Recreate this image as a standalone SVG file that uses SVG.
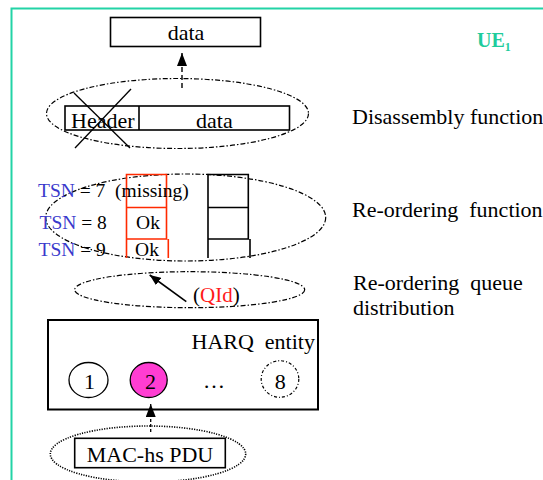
<svg xmlns="http://www.w3.org/2000/svg" width="543" height="480" viewBox="0 0 543 480">
<defs>
<style>
text{font-family:"Liberation Serif","Times New Roman",serif;fill:#000;font-size:22px}
.box{fill:#fff;stroke:#000;stroke-width:1.6}
.red{fill:none;stroke:#ff2a00;stroke-width:1.6}
.blk{fill:none;stroke:#000;stroke-width:1.6}
.dash{fill:none;stroke:#000;stroke-width:1.2;stroke-dasharray:5 2 1.5 2}
.dot{fill:none;stroke:#000;stroke-width:1.6;stroke-dasharray:1.2 1.3}
.tsn{fill:#3a3acc}
.ts{font-size:19.5px}
</style>
<marker id="ah" viewBox="0 0 13 10" refX="13" refY="5" markerWidth="13" markerHeight="10" markerUnits="userSpaceOnUse" orient="auto">
<path d="M0,0 L13,5 L0,10 z" fill="#000"/>
</marker>
<marker id="ahs" viewBox="0 0 11 9" refX="11" refY="4.5" markerWidth="11" markerHeight="9" markerUnits="userSpaceOnUse" orient="auto">
<path d="M0,0 L11,4.5 L0,9 z" fill="#000"/>
</marker>
</defs>
<rect width="543" height="480" fill="#fff"/>
<g id="frame">
<path d="M11.5,480 L11.5,8.5 L543,8.5" fill="none" stroke="#22d3a6" stroke-width="2"/>
<text x="477" y="47" font-weight="bold" style="font-size:20px;fill:#1fcc9c">UE<tspan style="font-size:12px" dy="4">1</tspan></text>
</g>
<g id="data-top">
<rect class="box" x="110.5" y="17.5" width="150" height="29"/>
<text x="186" y="40" text-anchor="middle">data</text>
</g>
<g id="disassembly">
<ellipse class="dash" cx="177.5" cy="113.5" rx="131" ry="35"/>
<rect class="box" x="65" y="106" width="224.5" height="24"/>
<line class="blk" x1="139" y1="106" x2="139" y2="130"/>
<text x="71" y="128">Header</text>
<text x="196" y="128">data</text>
<line x1="74" y1="93" x2="130" y2="148" stroke="#000" stroke-width="1.3"/>
<line x1="131" y1="89" x2="75" y2="148" stroke="#000" stroke-width="1.3"/>
<text x="352" y="124">Disassembly function</text>
</g>
<g id="reordering">
<ellipse class="dash" cx="185.7" cy="217.5" rx="140" ry="43.5"/>
<path class="red" d="M126.5,174.5 H166.5 V239 H126.5 Z M126.5,207.5 H166.5 M126.5,239 V258 M168.3,239 V258"/>
<path class="blk" d="M208,174.5 H248.3 V239 H208 Z M208,207.5 H248.3 M208,239 V258 M250,239 V258"/>
<text class="ts" x="38" y="196.5" xml:space="preserve"><tspan class="tsn">TSN</tspan> = 7  (missing)</text>
<text class="ts" x="39.5" y="228.5"><tspan class="tsn">TSN</tspan> = 8</text>
<text class="ts" x="148" y="228.5" text-anchor="middle">Ok</text>
<text class="ts" x="38.5" y="255.5"><tspan class="tsn">TSN</tspan> = 9</text>
<text class="ts" x="147" y="255.5" text-anchor="middle">Ok</text>
<text x="352" y="217" xml:space="preserve">Re-ordering  function</text>
</g>
<g id="queue-distribution">
<ellipse class="dash" cx="189.7" cy="289.7" rx="115" ry="18"/>
<text x="193" y="302" style="font-size:21px">(<tspan style="fill:#ff1a1a">QId</tspan>)</text>
<text x="353" y="290" xml:space="preserve">Re-ordering  queue</text>
<text x="353" y="315">distribution</text>
</g>
<g id="harq">
<rect x="48" y="320" width="270" height="89.5" fill="#fff" stroke="#000" stroke-width="2"/>
<text x="191.5" y="348.5" xml:space="preserve">HARQ  entity</text>
<ellipse cx="88.5" cy="380" rx="19.5" ry="17.5" fill="#fff" stroke="#000" stroke-width="1.3"/>
<text x="89.5" y="388.5" text-anchor="middle">1</text>
<ellipse cx="148.7" cy="380" rx="18.5" ry="17.5" fill="#ff3dd2" stroke="#000" stroke-width="1.3"/>
<text x="150.5" y="388.5" text-anchor="middle">2</text>
<text x="214" y="388" text-anchor="middle">…</text>
<ellipse cx="280" cy="379" rx="18.8" ry="18.3" fill="#fff" stroke="#000" stroke-width="1.2" stroke-dasharray="3 2 1 2"/>
<text x="280.3" y="388.5" text-anchor="middle">8</text>
</g>
<g id="mac-pdu">
<ellipse class="dot" cx="148" cy="454" rx="97.7" ry="28"/>
<rect class="box" x="74.7" y="438.3" width="150.6" height="29.4"/>
<text x="150" y="461.5" text-anchor="middle">MAC-hs PDU</text>
</g>
<g id="connectors">
<line x1="182" y1="88" x2="182" y2="53" stroke="#000" stroke-width="1.4" stroke-dasharray="5 3" marker-end="url(#ah)"/>
<line x1="186.3" y1="301.7" x2="149.7" y2="275" stroke="#000" stroke-width="1.6" marker-end="url(#ahs)"/>
<line x1="150.7" y1="432" x2="150.7" y2="404" stroke="#000" stroke-width="1.3" stroke-dasharray="3 2" marker-end="url(#ah)"/>
</g>
</svg>
